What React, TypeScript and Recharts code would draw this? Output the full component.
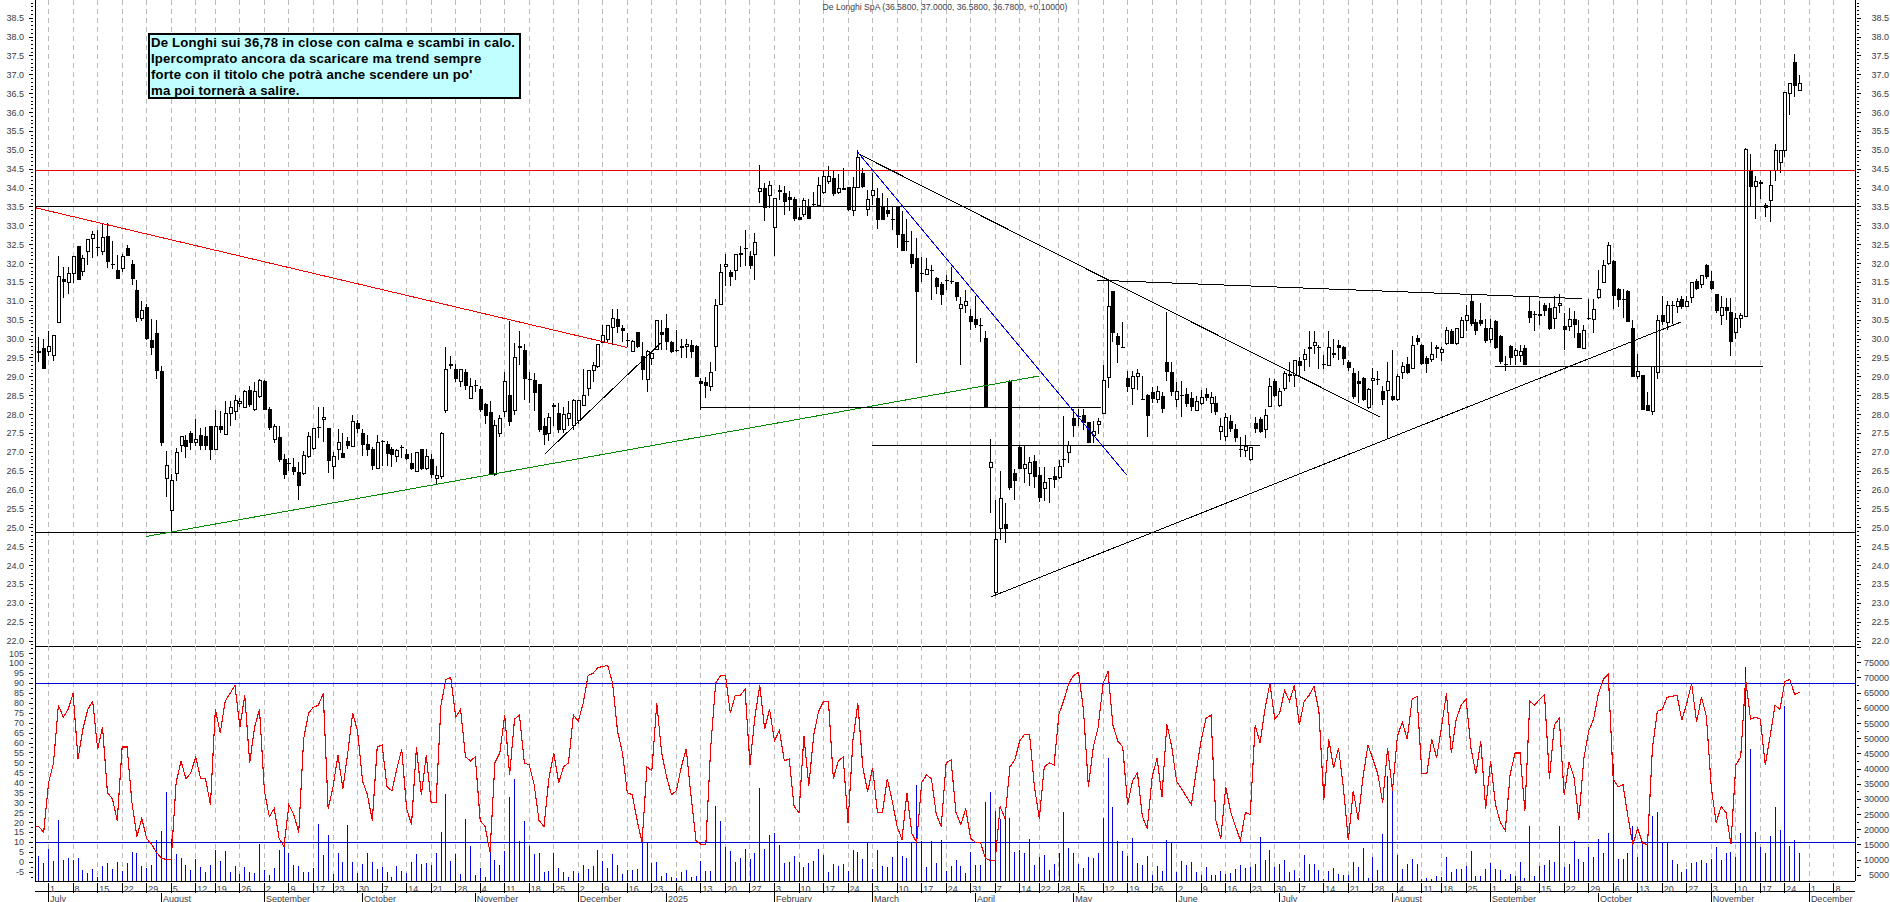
import {
  Bar,
  CartesianGrid,
  ComposedChart,
  Line,
  ReferenceLine,
  XAxis,
  YAxis,
} from "recharts";

// bar index -3 is the last bar of June 2024, 0 is 1 July 2024, 357 the last session
const FIRST_INDEX = -3;

const opens = [
  31.7,29.68,29.76,29.67,29.57,30.45,31.6,31.5,31.74,32.47,
  31.79,32.32,32.67,32.44,32.32,32.73,31.98,31.83,31.86,32.4,
  31.98,31.3,30.55,30.84,29.98,30.16,29.16,26.3,25.45,26.45,
  27.18,27.33,27.51,27.25,27.47,27.42,27.69,27.07,27.69,27.47,
  28.04,28.07,28.3,28.19,28.64,28.13,28.48,28.9,28.15,27.35,
  27.41,26.83,26.72,26.61,26.48,26.45,26.89,27.11,27.67,27.86,
  27.64,26.63,27.07,26.98,27.31,27.16,27.78,27.51,27.23,27.09,
  26.58,27.3,27.22,27.09,26.9,27.15,26.96,26.72,26.5,27.09,
  26.57,26.82,26.31,26.35,28.1,29.3,29.2,28.87,29.14,28.43,
  28.78,28.69,28.27,28.08,26.42,27.5,28.08,28.52,28.1,29.77,
  29.7,28.95,28.91,28.82,27.7,27.5,28.25,28.03,27.6,27.9,
  27.7,27.85,28.23,28.69,29.16,29.28,29.9,30,30.31,30.53,
  30.28,29.98,29.67,30.18,29.55,28.93,29.49,29.73,30.18,30.28,
  29.91,29.7,29.79,29.8,29.83,29.82,28.9,28.85,28.74,29.8,
  30.92,31.92,31.78,31.81,32.25,32.42,32.2,32.25,33.9,33.99,
  33.81,32.96,33.92,33.86,33.75,33.7,33.23,33.3,33.53,33.58,
  33.55,33.89,34.18,34.26,33.89,33.97,34.02,33.4,34.02,34.39,
  33.44,33.8,33.73,33.5,33.42,33.17,33.51,32.78,32.6,32.25,
  32.14,31.75,31.71,31.84,31.63,31.46,31.57,31.55,31.5,30.8,
  30.9,30.61,30.53,30.37,30.02,26.59,23.28,24.99,25.1,28.89,
  26.44,27.13,26.56,26.44,26.76,26.4,26.03,26.31,26.36,26.34,
  26.83,27,27.92,27.96,27.98,27.79,27.44,27.74,28.03,28.99,
  31.26,30.08,29.79,28.98,28.69,29.02,28.41,28.52,28.59,28.4,
  28.5,29.38,29.12,28.4,28.52,28.55,28.45,28.12,28.28,28.55,
  28.3,28.3,27.55,27.43,27.84,27.63,27.1,27.06,26.81,27.77,
  27.88,27.61,28.22,28.9,28.24,28.7,29.03,29.03,29.43,29.46,
  29.75,29.84,29.8,29.33,29.3,29.63,29.84,29.79,29.38,29.1,
  28.9,28.97,28.19,28.9,28.95,28.62,28.65,28.5,28.39,29.11,
  29.35,29.23,30.04,29.84,29.49,29.47,29.75,29.64,29.87,30.22,
  29.88,30.04,30.49,31,30.45,30.5,30.3,29.98,30.48,30.08,
  29.33,29.81,29.57,29.56,29.76,30.75,30.67,30.64,30.89,30.81,
  30.55,30.9,30.34,30.34,30.54,30.17,29.75,30.56,30.51,31.1,
  31.5,32,32.08,31.32,31.07,31.27,30.3,29,29.05,28.24,
  28.09,29.12,30.63,30.45,30.91,30.86,31.07,30.86,31.1,31.55,
  31.44,31.97,31.55,31.18,30.63,30.84,30.72,30.17,30.55,30.6,
  34.47,34.03,34.13,33.56,33.68,34.46,34.67,34.99,36.5,37.34,
  36.58,
];

const highs = [
  31.75,30.05,30,30.2,30.1,32.2,31.92,31.9,32.18,32.47,
  32.23,32.63,32.85,32.9,33.05,33.07,32.6,32.23,32.25,32.5,
  32.1,31.57,31,30.93,30.54,30.5,29.29,27.04,26.43,27.11,
  27.42,27.45,27.57,27.89,27.65,27.68,27.69,28.13,28.1,28.35,
  28.35,28.52,28.45,28.64,28.75,28.87,28.93,28.92,28.2,27.75,
  27.71,26.95,26.85,26.85,26.75,27.04,27.55,27.63,28.2,28.2,
  27.64,27,27.62,27.5,27.4,28,27.85,27.63,27.45,27.15,
  27.45,27.32,27.3,27.15,27.1,27.2,27.09,26.98,27.01,27.1,
  27.09,26.96,26.65,27.55,29.8,29.55,29.35,29.2,29.2,28.98,
  28.92,28.75,28.3,28.35,27.85,28,29.12,30.48,29.9,30.2,
  29.87,29.14,29.1,28.82,27.9,28.05,28.3,28.3,28.2,28.35,
  28.4,28.38,29.2,29.16,29.4,29.86,30.37,30.37,30.8,30.8,
  30.37,30.15,29.97,30.18,29.93,29.7,29.66,30.5,30.5,30.66,
  29.95,30.25,30,30,29.98,29.85,28.96,29,29.38,31.06,
  31.98,32.25,31.82,32.25,32.47,32.9,32.32,32.8,34.6,34.13,
  34.18,33.73,34.08,34.06,33.93,33.75,33.46,33.73,33.7,33.9,
  34.3,34.48,34.58,34.48,34.37,34.52,34.02,34.3,35,34.52,
  33.95,34.4,33.99,33.86,33.73,33.53,33.53,33.4,33.17,32.85,
  32.67,32.18,32.14,31.95,31.65,31.5,31.7,31.9,31.5,31.12,
  31.3,30.8,31.15,30.55,30.2,27.35,25.73,26.5,25.65,28.92,
  26.55,27.18,27.16,26.88,26.93,26.62,26.6,26.31,26.6,26.8,
  27.95,27.3,28.14,28.14,28.14,27.8,27.82,27.9,29.3,31.57,
  31.26,30.15,30.46,29.16,29.16,29.2,29.02,28.55,28.73,28.76,
  28.6,30.72,29.4,28.85,28.9,28.7,28.6,28.5,28.65,28.7,
  28.6,28.5,27.9,28.05,28,27.75,27.41,27.46,27.15,27.94,
  27.93,28.14,28.97,28.95,28.7,29.15,29.38,29.45,29.53,29.73,
  30.2,30.22,29.85,29.57,30.22,30,29.98,29.82,29.45,29.23,
  29.15,29,28.7,29.23,29.15,28.75,29.38,29.72,29.08,29.38,
  29.53,30.07,30.1,29.88,29.55,29.92,29.85,29.78,30.33,30.27,
  30.3,30.58,30.9,31.18,30.53,30.95,30.53,30.53,30.5,30.1,
  29.55,29.85,29.76,29.85,29.84,31.13,30.75,31,30.95,30.95,
  31.13,31.18,30.68,30.83,30.75,30.5,30.37,31.05,31.05,31.82,
  32.1,32.58,32.1,31.35,31.32,31.3,30.5,29.6,29.05,28.6,
  29.27,30.63,31.13,31.02,31.02,31.08,31.15,31.13,31.5,31.6,
  31.67,31.98,31.8,31.2,31.13,31.08,31.08,30.68,30.68,35.05,
  34.9,34.33,34.2,33.6,34.46,35.17,34.99,36.53,36.77,37.55,
  37,
];

const lows = [
  29.7,29.4,29.2,29.55,29.43,30.45,31.08,31.2,31.48,31.57,
  31.67,31.96,32.14,32.2,32.23,31.88,31.86,31.6,31.77,32.2,
  31.42,30.44,30.49,29.97,29.58,28.95,27.18,25.81,24.86,26.25,
  27,26.85,27.07,27.16,27.07,27.07,26.8,27.07,27.5,27.45,
  27.69,27.85,28.2,28.17,28.2,28.1,28.44,28.13,27.6,27.25,
  26.75,26.3,26.51,26.4,25.75,26.41,26.85,27.05,27.38,27.26,
  26.45,26.28,26.8,26.85,27.1,27.16,27.5,26.9,26.9,26.53,
  26.55,26.63,26.65,26.6,26.75,26.85,26.8,26.52,26.48,26.54,
  26.54,26.33,26.16,26.3,28.05,29.2,28.87,28.73,28.65,28.43,
  28.6,28.07,27.75,26.4,26.38,27.4,27.94,27.7,27.99,29.3,
  28.38,28.3,28.1,27.55,27.2,27.3,27.7,27.5,27.5,27.7,
  27.6,27.75,28.23,28.5,28.87,29.22,29.9,29.93,29.84,30.15,
  29.93,29.8,29.67,29.75,28.91,28.6,29.3,29.7,29.7,29.7,
  29.64,29.66,29.5,29.5,29.5,29,28.12,28.45,28.63,29.16,
  30.92,31.4,31.41,31.57,31.92,31.94,31.85,31.56,33.6,33.13,
  33.46,32.2,33.68,33.29,33.4,33.12,33.14,33.22,33.19,33.5,
  33.5,33.85,34.1,33.8,33.85,33.95,33.4,33.27,34.02,34,
  33.26,33.55,32.92,33.14,33.23,32.9,32.42,32.32,32.32,31.87,
  29.36,31.52,31.7,31.03,31.2,30.9,31.3,31.45,31,29.3,
  30.7,30.24,30.3,29.93,28.17,25.38,23.22,24.68,24.59,26,
  25.74,26.56,26.2,26.1,26.06,25.68,25.7,25.65,26.05,26.3,
  26.62,26.72,27.41,27.7,27.6,27.24,27.24,27.48,28.03,28.7,
  29.93,29.37,29.77,28.6,28.25,28.65,28.39,27.41,28.3,28.3,
  28.05,28.9,28.5,28.2,27.93,28.2,28.1,28.1,28.25,28.35,
  28.05,28,27.33,27.3,27.55,27.28,26.88,26.88,26.78,27.5,
  27.5,27.37,28.2,28.46,28.2,28.62,28.85,28.74,28.99,29.15,
  29.25,29.6,29.2,29.2,29.28,29.5,29.45,29.3,29.15,28.4,
  28.3,28.37,28.15,28.25,28.78,28.25,27.37,28.35,28.37,28.93,
  29.07,29.2,29.85,29.3,29.1,29.38,29.5,29.42,29.85,29.87,
  29.85,30.02,30.22,30.35,30.12,30.35,29.9,29.9,29.74,29.35,
  29.15,29.3,29.3,29.38,29.3,30.42,30.22,30.38,30.6,30.25,
  30.27,30.68,29.72,30.2,30.02,29.75,29.75,30.5,30.15,31.05,
  31.5,31.95,30.8,30.85,30.55,30.45,29,28.95,28.13,28.09,
  27.98,28.93,30.37,30.25,30.4,30.7,30.8,30.85,30.95,31.3,
  31.35,31.6,31.3,30.7,30.38,30.5,29.56,29.99,30.3,30.58,
  33.5,33.17,33.72,33.22,33.09,34.18,34.4,34.82,35.93,36.4,
  36.58,
];

const closes = [
  29.7,29.64,29.2,29.8,30.1,31.65,31.52,31.74,32.18,31.57,
  32.14,32.63,32.76,32.42,32.7,32.05,31.95,31.6,32.18,32.2,
  31.6,30.57,30.75,30,29.75,29.15,27.25,26.65,26.25,27,
  27.42,27.14,27.25,27.35,27.18,27.18,27.05,27.69,27.58,28.04,
  28.2,28.38,28.35,28.62,28.24,28.62,28.89,28.13,27.64,27.69,
  26.79,26.39,26.7,26.49,26.1,26.91,27.42,27.63,27.65,27.93,
  26.76,26.88,27.25,26.85,27.16,27.82,27.63,27.2,27.07,26.63,
  27.26,27.26,26.96,26.92,27.04,27.13,26.82,26.57,27,26.57,
  26.88,26.39,26.38,27.5,29.2,29.32,28.94,29.2,28.76,28.74,
  28.76,28.12,27.97,26.42,27.7,27.9,28.87,27.8,29.52,29.79,
  28.94,28.93,28.58,27.6,27.45,27.92,28.2,27.6,28,28.03,
  28.38,28.36,28.5,29.16,29.3,29.86,30.09,30.35,30.55,30.31,
  30.2,29.96,29.94,29.8,29.18,29.67,29.62,30.49,30.1,29.93,
  29.67,29.68,29.81,29.86,29.67,29,28.8,28.76,29.12,30.88,
  31.76,31.98,31.65,32.24,32.26,32.4,31.94,32.56,33.99,33.48,
  34.07,33.73,33.94,33.64,33.67,33.18,33.14,33.66,33.19,33.56,
  34.06,34.3,34.3,33.85,33.98,33.99,33.42,34.02,34.82,34.03,
  33.7,33.93,33.15,33.14,33.32,33.15,32.76,32.32,32.58,32,
  31.25,31.73,31.85,31.82,31.39,31.17,31.55,31.53,31.12,30.92,
  31,30.46,30.38,30.35,28.17,26.73,24.7,25.78,24.96,26.06,
  26.25,26.56,26.69,26.72,26.35,25.8,26.2,26.29,26.27,26.62,
  26.81,27.18,27.7,27.93,27.77,27.24,27.55,27.82,28.9,30.86,
  30.15,29.83,29.77,28.74,29,29.1,28.39,27.97,28.4,28.62,
  28.14,29.12,28.6,28.6,28.48,28.28,28.2,28.34,28.45,28.45,
  28.45,28.06,27.69,27.93,27.62,27.37,27.06,27.15,27.12,27.62,
  27.55,27.97,28.74,28.5,28.62,29.1,29.07,29.44,29.28,29.6,
  29.77,29.9,29.78,29.31,29.78,29.58,29.75,29.46,29.23,28.47,
  28.8,28.39,28.67,28.95,28.93,28.39,28.88,28.39,29,29.28,
  29.11,29.84,29.92,29.35,29.35,29.59,29.77,29.72,30.22,29.87,
  30.27,30.49,30.63,30.4,30.22,30.4,29.96,30.27,29.76,29.38,
  29.31,29.5,29.69,29.67,29.32,30.55,30.65,30.66,30.75,30.27,
  30.83,30.95,30.23,30.52,30.36,29.75,30.22,30.54,30.78,31.32,
  31.94,32.49,31.13,31.03,31.05,30.45,29,29.15,28.13,28.09,
  29.27,30.5,30.45,30.9,30.89,30.99,30.86,31,31.5,31.32,
  31.67,31.64,31.33,30.75,30.84,30.75,29.91,30.54,30.63,35.02,
  34.03,34.17,34.15,33.47,34.06,34.99,34.99,36.53,36.77,36.7,
  36.78,
];

const stochastic = [
  18,18,15,40,50,79,73,77,85,52,
  67,77,81,57,68,35,32,21,58,58,
  30,13,22,12,9,5,2,1.5,1.5,40,
  51,42,45,53,42,42,29,77,65,81,
  85,89,68,84,50,68,77,36,23,27,
  12,8,29,24,15,62,75,78,79,85,
  27,38,54,37,55,75,66,41,34,21,
  58,59,38,36,47,57,27,19,58,34,
  54,30,30,79,92,93,73,77,53,51,
  53,21,18,5,50,55,74,44,72,74,
  50,49,39,21,18,42,55,40,48,50,
  74,71,80,94,95,98,98.5,99,90,66,
  55,35,34,21,10,48,46,80,55,43,
  34,36,48,57,33,11,9,9,58,90,
  94,94,75,84,84,87,49,73,89,67,
  77,61,66.5,51,52,28,25,63.5,38.5,64,
  76,81,81,42,51,53,20,61.5,80,48,
  35.5,47.5,25,25,42,31,18,11.5,35,14.5,
  10,40,44,42,24,18,50,51.5,25,19,
  27,12,10,10,2,1,1,28,22,48,
  51.5,61,64.5,64.5,38,22,48,50,49,74.5,
  81.5,90,94,95.5,76.5,38,58,68,90,96,
  69,61,58,29,41,45,23,17,43,52.5,
  33,69.5,58,40.5,37,33,29,46,61.5,72.5,
  74,21,12,38,25.5,18,11,25,24,69,
  60,77,90,72,75,86.5,81,89,69,81,
  84,88.5,76,31.5,62,47.5,57.5,37.5,11,36,
  21.5,43,59,52,44.5,30,57.5,36,63.5,70.5,
  62,82,83.5,44.5,44.5,62,52.5,68,85,55,
  72,79,82,57.5,44.5,61,27,51,29,20,
  16,44.5,55,55,26,81,79,82,84.5,42,
  69,72.5,34,50.5,43,21.5,52,66,72,85,
  92,94.5,42,38,39,23,9,17,9.5,9,
  57.5,76,77,83,83.5,84,71.5,80,90,70.5,
  83,73.5,37.5,20,28,25,9,49,53,92,
  72,73,72,49,63.5,79,77,91,92,84.5,
  85.5,
];

// volume in thousands of shares, read on the right axis
const volumesK = [
  8,11.3,9.1,13.7,9.7,23.2,10,10.7,10.1,10.7,
  6.7,5.8,7,4.5,8,9.1,7,9.3,6.4,9.1,
  12.7,12.4,8,7.4,8.4,16.6,19.6,32.4,16.9,11.9,
  10.6,8.3,6.7,10.4,7.8,6,8.3,13.3,9.7,12.9,
  6,8,5.3,7.6,6,5.7,15.2,6.7,5,7.3,
  13.3,14.9,12.4,8.3,8,6,6,7.5,21.8,11.6,
  18.2,5.3,12.3,9.4,21.5,9.3,5.7,8.6,12.3,9.3,
  7,7.6,6,4.5,8,6.3,5.7,9.3,11.9,8.6,
  8.9,8.3,12.3,19.2,31.7,9.6,11.9,5.6,23.5,14.6,
  5,7.3,4.3,12.6,10,8.3,12.9,30.7,36.7,16.2,
  22.8,14.7,11.9,12.3,6,6.3,12.3,7.3,6,4.3,
  6.3,5.7,8.3,7,8,13.3,9.6,7.3,11.9,8.3,
  5.3,6.8,6.7,7.2,15.8,15.8,9.1,9.3,4.7,5.8,
  4.5,4.2,6.1,6.7,4.5,4.7,9.6,6.3,6.3,27.8,
  22.8,14.4,13,9.4,10.7,13.7,10.5,12.5,33.8,13.7,
  18.2,19,14.9,8.9,9.4,11.3,9.4,7.8,8.9,9.6,
  13.6,11.6,6.1,8.6,8,8.6,6.3,13.3,12.7,10.3,
  15.8,7,13.3,8.1,7.8,11,16.2,11.4,10.7,15.8,
  34.7,16.2,7.8,16.2,9.1,16.6,6.4,8.1,10,8,
  5.8,12.7,8.3,8.3,29.2,32.5,26.2,23.7,23.7,23.9,
  12.7,13.3,12.4,16.9,8.3,11,11.6,6.9,8.6,12.2,
  25.9,14,12.4,8.6,7.4,11,10.7,12.4,23.9,43.7,
  27.6,16.2,13,11.3,17.3,9.1,8.5,11.3,5,8,
  6.4,16.6,15.5,6.1,9.6,8.5,9.3,6.1,5,7.8,
  5,5,6.4,5.3,5.8,7.2,8.3,7.5,7.8,8.6,
  17.7,9.9,13.5,7.8,8.6,10.1,6.1,6.9,4.2,11.8,
  8.6,8.6,6.7,3.8,6.3,7.4,5.3,5.2,5.2,9.3,
  7.6,13.9,4.2,11.2,6.7,18.5,37.8,35.2,11.8,7,
  8.6,10.5,8.6,3.8,4.2,3.8,4.8,4.6,11.2,6.1,
  7,7,8,13.1,4.8,4.8,7,9,7,6.7,
  3.8,5.5,4.8,9.5,4.2,21.1,4.8,8,8.4,9.9,
  9.5,21.1,7.6,8.6,16.2,10.5,9.5,14.4,10.9,17,
  12.4,18.8,41.6,10.3,10.3,12.2,21.3,11.2,16.2,16.2,
  24.7,26,15.6,15.6,9.9,8.6,6.1,7,9,9.3,
  10.1,9.1,10.5,14.3,9.9,12.4,12.8,11.2,19,73.5,
  46.6,19.4,14.3,12.4,17.9,27.6,19.8,60.8,14.6,16.5,
  12.2,
];

const weekTicks = [
  0,5,10,15,20,25,30,34,39,44,49,54,58,63,68,73,78,83,88,93,98,103,108,113,118,123,
  128,133,138,143,148,153,158,163,168,173,178,183,188,193,198,202,206,210,215,220,225,
  230,235,240,245,250,255,260,265,270,275,280,284,289,294,299,304,309,314,319,324,329,
  334,339,344,349,354,359,364,
];
const weekLabels = [
  "1","8","15","22","29","5","12","19","26","2","9","17","23","30","7","14","21","28","4","11","18","25","2","9","16","23",
  "6","13","20","27","3","10","17","24","3","10","17","24","31","7","14","22","28","5","12","19","26",
  "2","9","16","23","30","7","14","21","28","4","11","18","25","1","8","15","22","29","6","13","20",
  "27","3","10","17","24","1","8",
];
const monthTicks = [0,23,44,64,87,108,126,148,168,189,209,230,251,274,294,316,339,359];
const monthLabels = [
  "July","August","September","October","November","December","2025","February","March",
  "April","May","June","July","August","September","October","November","December",
];

const X_DOMAIN: [number, number] = [-2.77, 368.3];
const PRICE_DOMAIN: [number, number] = [21.87, 38.98];
const OSC_DOMAIN: [number, number] = [-9.4, 108.8];
const VOL_DOMAIN: [number, number] = [3130, 80540];

const priceTicks = Array.from({ length: 171 }, (_, k) => (219 + k) / 10);
const oscTicks = Array.from({ length: 47 }, (_, k) => -7.5 + k * 2.5);
const volTicks = Array.from({ length: 31 }, (_, k) => 5000 + k * 2500);

// price levels drawn across the whole width
const levels = [
  { y: 34.47, stroke: "#f00000" },
  { y: 33.52, stroke: "#000000" },
  { y: 24.88, stroke: "#000000" },
  { y: PRICE_DOMAIN[0], stroke: "#000000" },
];

// hand drawn lines: bar index and price at each end
const trendLines = [
  { x1: -2.77, y1: 33.48, x2: 117.9, y2: 29.78, stroke: "#f00000" },
  { x1: 19.86, y1: 24.77, x2: 201.9, y2: 29.02, stroke: "#008a00" },
  { x1: 101.2, y1: 26.96, x2: 124.85, y2: 29.9, stroke: "#000000" },
  { x1: 132.9, y1: 28.18, x2: 214.6, y2: 28.18, stroke: "#000000" },
  { x1: 167.9, y1: 27.19, x2: 246.9, y2: 27.19, stroke: "#000000" },
  { x1: 164.9, y1: 34.92, x2: 271.5, y2: 27.93, stroke: "#000000" },
  { x1: 164.9, y1: 34.96, x2: 219.8, y2: 26.4, stroke: "#0000e0" },
  { x1: 213.7, y1: 31.56, x2: 312.7, y2: 31.07, stroke: "#000000" },
  { x1: 192.1, y1: 23.17, x2: 332.8, y2: 30.45, stroke: "#000000" },
  { x1: 294.9, y1: 29.27, x2: 349.6, y2: 29.27, stroke: "#000000" },
];

const rows = opens.map((open, k) => ({
  idx: FIRST_INDEX + k,
  open,
  high: highs[k],
  low: lows[k],
  close: closes[k],
  range: [lows[k], highs[k]],
  stoch: stochastic[k],
  vol: volumesK[k] * 1000,
}));

const AXIS_FONT = "'Liberation Sans', Arial, sans-serif";
const LABEL_COLOR = "#3c3c48";
const AXIS_LINE = { stroke: "#000", strokeWidth: 1, shapeRendering: "crispEdges" };

const Candle = (props: any) => {
  const { x, y, width, height, payload } = props;
  const { open, close, high, low } = payload;
  const k = height / (high - low);
  const cx = Math.round(x + width / 2);
  const top = y + (high - Math.max(open, close)) * k;
  const bottom = y + (high - Math.min(open, close)) * k;
  const up = close > open;
  return (
    <g shapeRendering="crispEdges">
      <line x1={cx + 0.5} x2={cx + 0.5} y1={y} y2={y + height} stroke="#000" strokeWidth={1} />
      {up ? (
        <rect x={cx - 1} y={top} width={3} height={Math.max(bottom - top, 1)} fill="#fff" stroke="#000" strokeWidth={1} />
      ) : (
        <rect x={cx - 1.5} y={top} width={4} height={Math.max(bottom - top, 1)} fill="#000" />
      )}
    </g>
  );
};

const ScaleTick = (props: any) => {
  const { x, y, payload, side, step, maxLabel, format } = props;
  const value = payload.value;
  const ratio = value / step;
  const major = Math.abs(ratio - Math.round(ratio)) < 1e-6;
  const len = major ? 4 : 2;
  const dir = side === "left" ? -1 : 1;
  return (
    <g>
      <line x1={x} x2={x + dir * len} y1={y} y2={y} stroke="#000" shapeRendering="crispEdges" />
      {major && value <= maxLabel ? (
        <text
          x={side === "left" ? x - 9 : x + 32}
          y={y + 3}
          textAnchor="end"
          fontSize={9}
          fontFamily={AXIS_FONT}
          fill={LABEL_COLOR}
        >
          {format(value)}
        </text>
      ) : null}
    </g>
  );
};

const RowTick = (props: any) => {
  const { x, y, payload, ticks, labels, rowHeight } = props;
  return (
    <g>
      <line x1={x} x2={x} y1={y} y2={y + rowHeight} stroke="#000" shapeRendering="crispEdges" />
      <text x={x + 1.5} y={y + 8.5} fontSize={9} fontFamily={AXIS_FONT} fill={LABEL_COLOR}>
        {labels[ticks.indexOf(payload.value)]}
      </text>
    </g>
  );
};

const NoTick = () => <g />;

const PriceChart = () => (
  <ComposedChart width={1890} height={648} data={rows} margin={{ top: 0, right: 0, bottom: 2, left: 0 }}>
    <XAxis
      dataKey="idx"
      type="number"
      domain={X_DOMAIN}
      ticks={weekTicks}
      interval={0}
      allowDataOverflow
      height={0}
      tick={<NoTick />}
      tickLine={false}
      axisLine={false}
    />
    <YAxis
      yAxisId="price"
      orientation="left"
      width={35}
      domain={PRICE_DOMAIN}
      ticks={priceTicks}
      interval={0}
      allowDataOverflow
      tickSize={0}
      tickLine={false}
      axisLine={AXIS_LINE}
      tick={<ScaleTick side="left" step={0.5} maxLabel={38.5} format={(v: number) => v.toFixed(1)} />}
    />
    <YAxis
      yAxisId="priceRight"
      orientation="right"
      width={35}
      domain={PRICE_DOMAIN}
      ticks={priceTicks}
      interval={0}
      allowDataOverflow
      tickSize={0}
      tickLine={false}
      axisLine={AXIS_LINE}
      tick={<ScaleTick side="right" step={0.5} maxLabel={38.5} format={(v: number) => v.toFixed(1)} />}
    />
    <CartesianGrid yAxisId="price" horizontal={false} stroke="#b9b9b9" strokeDasharray="5 4" shapeRendering="crispEdges" />
    <Bar
      yAxisId="price"
      dataKey="range"
      barSize={4}
      shape={<Candle />}
      isAnimationActive={false}
    />
    {levels.map((l) => (
      <ReferenceLine key={l.y} yAxisId="price" y={l.y} stroke={l.stroke} strokeWidth={1} shapeRendering="crispEdges" />
    ))}
    {trendLines.map((t, k) => (
      <ReferenceLine
        key={k}
        yAxisId="price"
        segment={[
          { x: t.x1, y: t.y1 },
          { x: t.x2, y: t.y2 },
        ]}
        stroke={t.stroke}
        strokeWidth={1}
        shapeRendering="crispEdges"
      />
    ))}
  </ComposedChart>
);

const OscillatorChart = () => (
  <ComposedChart width={1890} height={256} data={rows} margin={{ top: 0, right: 0, bottom: 0, left: 0 }}>
    <XAxis
      xAxisId="days"
      dataKey="idx"
      type="number"
      domain={X_DOMAIN}
      ticks={weekTicks}
      interval={0}
      allowDataOverflow
      height={10}
      tickSize={0}
      tickLine={false}
      axisLine={AXIS_LINE}
      tick={<RowTick ticks={weekTicks} labels={weekLabels} rowHeight={10} />}
    />
    <XAxis
      xAxisId="months"
      dataKey="idx"
      type="number"
      domain={X_DOMAIN}
      ticks={monthTicks}
      interval={0}
      allowDataOverflow
      height={11}
      tickSize={0}
      tickLine={false}
      axisLine={AXIS_LINE}
      tick={<RowTick ticks={monthTicks} labels={monthLabels} rowHeight={11} />}
    />
    <YAxis
      yAxisId="osc"
      orientation="left"
      width={35}
      domain={OSC_DOMAIN}
      ticks={oscTicks}
      interval={0}
      allowDataOverflow
      tickSize={0}
      tickLine={false}
      axisLine={AXIS_LINE}
      tick={<ScaleTick side="left" step={5} maxLabel={105} format={(v: number) => String(v)} />}
    />
    <YAxis
      yAxisId="vol"
      orientation="right"
      width={35}
      domain={VOL_DOMAIN}
      ticks={volTicks}
      interval={0}
      allowDataOverflow
      tickSize={0}
      tickLine={false}
      axisLine={AXIS_LINE}
      tick={<ScaleTick side="right" step={5000} maxLabel={75000} format={(v: number) => String(v)} />}
    />
    <CartesianGrid xAxisId="days" yAxisId="osc" horizontal={false} stroke="#b9b9b9" strokeDasharray="5 4" shapeRendering="crispEdges" />
    <Bar
      xAxisId="days"
      yAxisId="vol"
      dataKey="vol"
      barSize={1}
      fill="#0000f0"
      shapeRendering="crispEdges"
      isAnimationActive={false}
    />
    <ReferenceLine xAxisId="days" yAxisId="osc" y={90} stroke="#0000d8" strokeWidth={1} shapeRendering="crispEdges" />
    <ReferenceLine xAxisId="days" yAxisId="osc" y={10} stroke="#0000d8" strokeWidth={1} shapeRendering="crispEdges" />
    <Line
      xAxisId="days"
      yAxisId="osc"
      type="linear"
      dataKey="stoch"
      stroke="#f00000"
      strokeWidth={1.1}
      dot={false}
      shapeRendering="crispEdges"
      isAnimationActive={false}
    />
  </ComposedChart>
);

const noteLines = [
  "De Longhi sui 36,78 in close con calma e scambi in calo.",
  "Ipercomprato ancora da scaricare ma trend sempre",
  "forte con il titolo che potrà anche scendere un po'",
  "ma poi tornerà a salire.",
];

export default function App() {
  return (
    <div style={{ position: "absolute", left: 0, top: 0, width: 1890, height: 902, background: "#fff", overflow: "hidden" }}>
      <div style={{ position: "absolute", left: 0, top: 0 }}>
        <PriceChart />
      </div>
      <div style={{ position: "absolute", left: 0, top: 646 }}>
        <OscillatorChart />
      </div>
      <div
        style={{
          position: "absolute",
          left: 0,
          width: 1890,
          top: 2,
          textAlign: "center",
          fontFamily: AXIS_FONT,
          fontSize: 8.6,
          lineHeight: "11px",
          color: LABEL_COLOR,
        }}
      >
        De Longhi SpA (36.5800, 37.0000, 36.5800, 36.7800, +0.10000)
      </div>
      <div
        style={{
          position: "absolute",
          left: 148,
          top: 33,
          width: 368,
          height: 62,
          background: "#bfffff",
          border: "2px solid #000",
          fontFamily: AXIS_FONT,
          fontWeight: "bold",
          fontSize: 13.2,
          letterSpacing: 0.18,
          lineHeight: "16px",
          color: "#000",
          paddingLeft: 1,
          whiteSpace: "nowrap",
        }}
      >
        {noteLines.map((t) => (
          <div key={t}>{t}</div>
        ))}
      </div>
    </div>
  );
}
